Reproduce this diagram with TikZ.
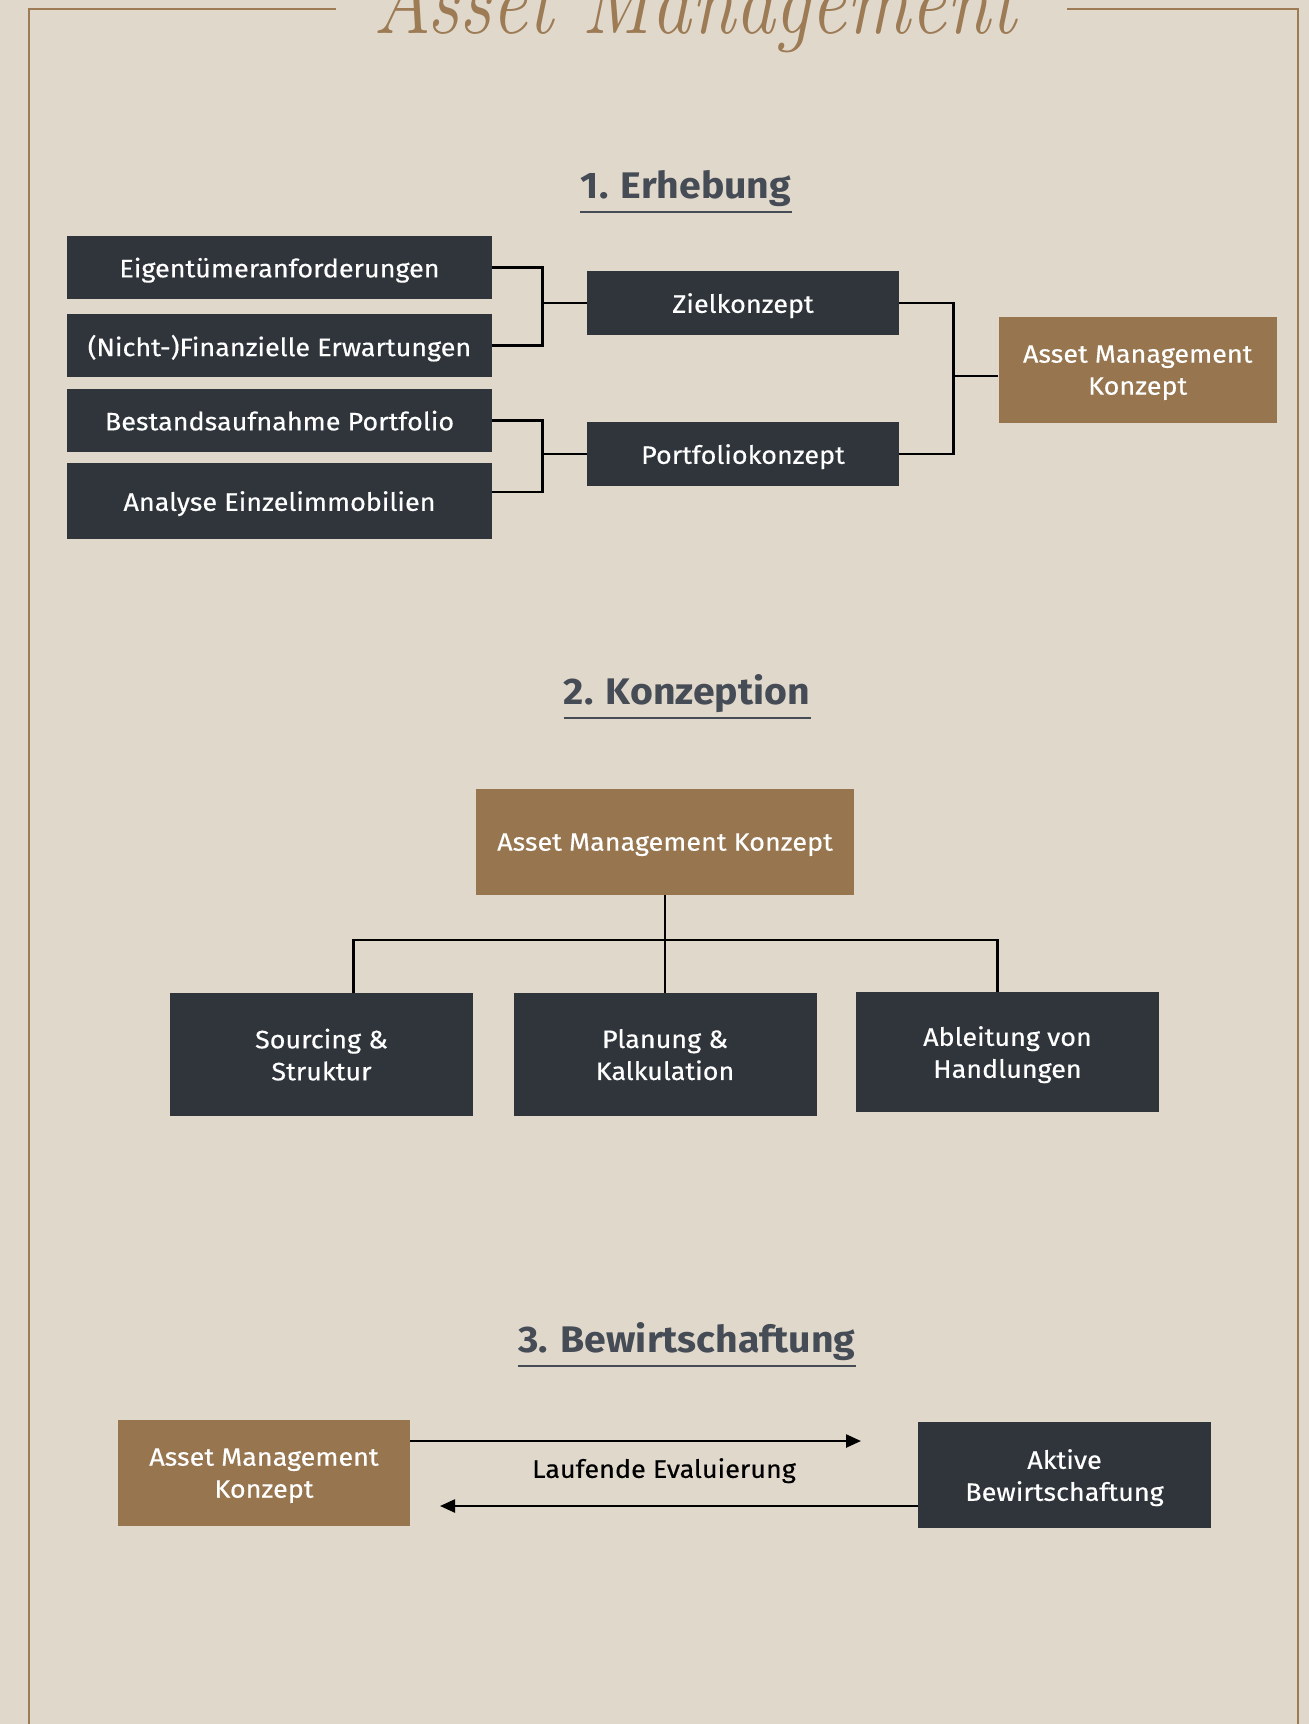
\documentclass[tikz,border=0pt]{standalone}
\usepackage{fontspec}
\newfontfamily\boxfont{Fira Sans}[FakeStretch=1.07, FakeBold=0.4]
\newfontfamily\headfont{Fira Sans}[FakeStretch=1.06]
\usetikzlibrary{arrows.meta, positioning}

\definecolor{paper}{HTML}{E1D8CC}
\definecolor{slate}{HTML}{2F353B}
\definecolor{bronze}{HTML}{96754F}
\definecolor{inkgrey}{HTML}{454C55}
\definecolor{framebrown}{HTML}{9C7B55}

\begin{document}
\begin{tikzpicture}[x=0.5pt,y=-0.5pt,on grid,>={Triangle[length=7.5pt,width=6.5pt]},
    box/.style={inner sep=0pt, align=center, text=white, text depth=0pt, font=\boxfont\fontsize{12.6}{16}\selectfont},
    darkbox/.style={box, fill=slate},
    brownbox/.style={box, fill=bronze},
    leftbox/.style={darkbox, minimum width=212.5pt, minimum height=31.5pt},
    midbox/.style={darkbox, minimum width=156pt, minimum height=32pt},
    lowbox/.style={darkbox, minimum width=151.5pt, minimum height=61.5pt},
    heading/.style={inner sep=0pt, anchor=base, text=inkgrey, font=\headfont\bfseries\fontsize{18.5}{20}\selectfont},
    link/.style={line width=1.2pt, black},
    headline/.style={line width=1pt, inkgrey}]
  \useasboundingbox (0,0) rectangle (1309,1724);
  \fill[paper] (0,0) rectangle (1309,1724);

  % title and frame
  \begin{scope}
    \clip (0,0) rectangle (1309,1724);
    \node[anchor=base, inner sep=0pt, text=framebrown] (title) at (695,33)
      {\scalebox{0.84}[1]{\fontsize{47.5}{50}\selectfont\itshape Asset Management}};
    \draw[framebrown, line width=1.25pt] (336,9) -- (29,9) -- (29,1740);
    \draw[framebrown, line width=1.25pt] (1067,9) -- (1298,9) -- (1298,1740);
  \end{scope}

  % 1. Erhebung
  \node[heading] (h1) at (686,198) {1. Erhebung};
  \draw[headline] ([yshift=-6.8pt]h1.base west) -- ([yshift=-6.8pt]h1.base east);

  \node[leftbox] (eig) at (279.5,267.5) {Eigentümeranforderungen};
  \node[leftbox, below=39pt of eig] (nicht) {(Nicht-)Finanzielle Erwartungen};
  \node[leftbox, below=37.5pt of nicht] (best) {Bestandsaufnahme Portfolio};
  \node[leftbox, minimum height=38pt, below=40.25pt of best] (ana) {Analyse Einzelimmobilien};
  \node[midbox] (ziel) at (743,303) {Zielkonzept};
  \node[midbox, below=75.5pt of ziel] (port) {Portfoliokonzept};
  \node[brownbox, minimum width=139pt, minimum height=53pt] (amk1) at (1137.7,370) {Asset Management\\Konzept};

  \draw[link] (eig.east) -- ++(50,0) |- (nicht.east);
  \draw[link] (ziel.west) -- ++(-45,0);
  \draw[link] (best.east) -- ++(50,0) |- ([yshift=4.5pt]ana.east);
  \draw[link] (port.west) -- ++(-45,0);
  \draw[link] (ziel.east) -- ++(54,0) |- (port.east);
  \draw[link] ([yshift=-3pt]amk1.west) -- ++(-46,0);

  % 2. Konzeption
  \node[heading] (h2) at (687,704) {2. Konzeption};
  \draw[headline] ([yshift=-6.8pt]h2.base west) -- ([yshift=-6.8pt]h2.base east);

  \node[brownbox, minimum width=189pt, minimum height=53pt] (amk2) at (665,842) {Asset Management Konzept};
  \node[lowbox] (src) at (321.5,1054.5) {Sourcing \&\\Struktur};
  \node[lowbox] (plan) at (665,1054.5) {Planung \&\\Kalkulation};
  \node[lowbox, minimum height=60pt] (abl) at (1007.5,1052) {Ableitung von\\Handlungen};

  \coordinate (bus) at (665,940);
  \draw[link] (amk2.south) -- (plan.north);
  \draw[link] ([xshift=16pt]src.north) |- (bus) -| ([xshift=-5pt]abl.north);

  % 3. Bewirtschaftung
  \node[heading] (h3) at (687,1352) {3. Bewirtschaftung};
  \draw[headline] ([yshift=-6.8pt]h3.base west) -- ([yshift=-6.8pt]h3.base east);

  \node[brownbox, minimum width=146pt, minimum height=53pt] (amk3) at (264,1473) {Asset Management\\Konzept};
  \node[darkbox, minimum width=146.5pt, minimum height=53pt] (akt) at (1064.5,1475) {Aktive\\Bewirtschaftung};
  \node[box, text=black] (eval) at (664,1468) {Laufende Evaluierung};

  \coordinate (fwd) at (861,1441);
  \coordinate (back) at (440,1506);
  \draw[link, ->] (amk3.east |- fwd) -- (fwd);
  \draw[link, ->] (akt.west |- back) -- (back);
\end{tikzpicture}
\end{document}
